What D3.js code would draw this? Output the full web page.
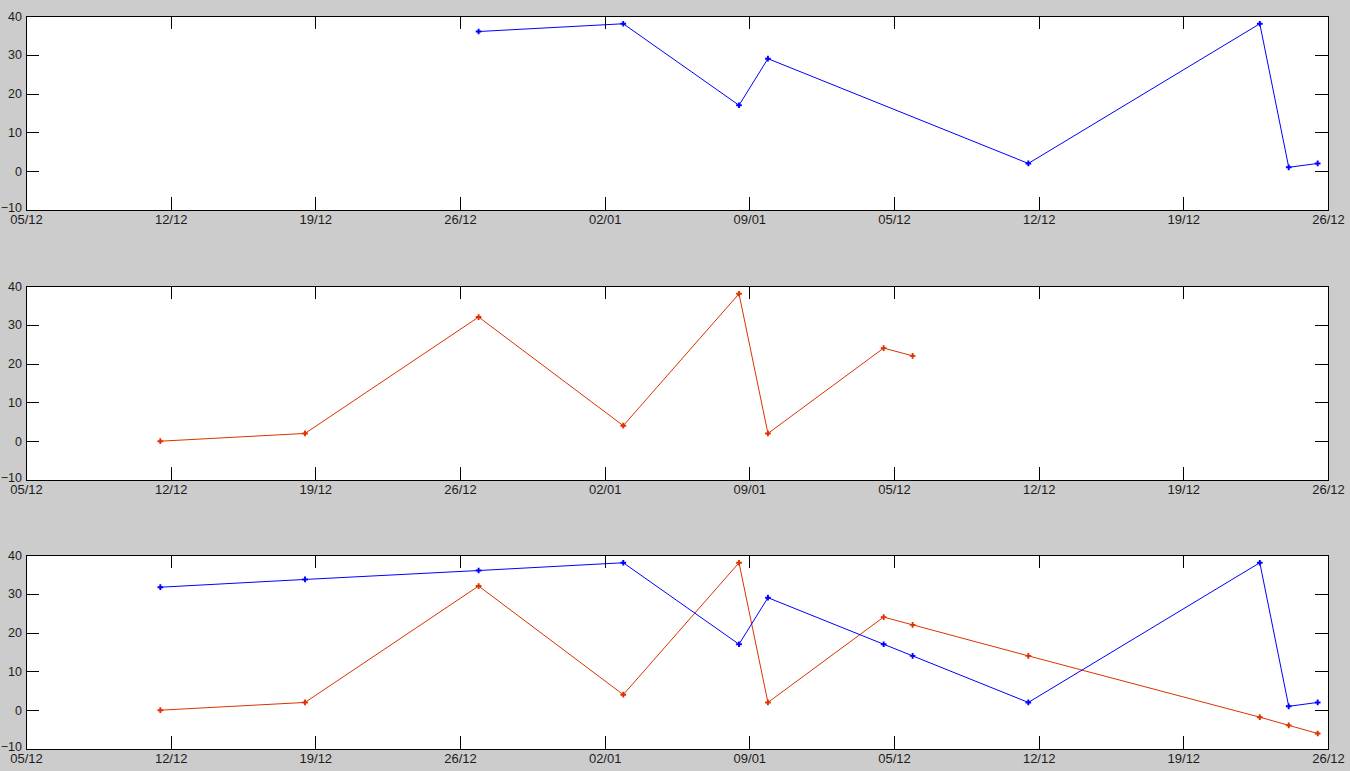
<!DOCTYPE html>
<html>
<head>
<meta charset="utf-8">
<script src="https://cdn.jsdelivr.net/npm/d3@7"></script>
<style>
	html, body { margin: 0; padding: 0; background: #cccccc; }
	svg { display: block; }
	.tick text { font-family: "Liberation Sans", Helvetica, Arial, sans-serif; font-size: 13px; fill: #1c1c1c; }
	.yax .tick text { font-size: 12.5px; }
</style>
</head>
<body>
<div id="main-view"></div>
<script>
// day offsets from the first tick (one tick = 7 days)
var days = [6.5, 13.5, 21.9, 28.9, 34.5, 35.9, 41.5, 42.9, 48.5, 59.7, 61.1, 62.5];
var xTickLabels = ["05/12", "12/12", "19/12", "26/12", "02/01", "09/01", "05/12", "12/12", "19/12", "26/12"];
var yTicks = [-10, 0, 10, 20, 30, 40];

var blueTop = [null, null, 36, 38, 17, 29, null, null, 2, 38, 1, 2];
var redMid = [0, 2, 32, 4, 38, 2, 24, 22, null, null, null, null];
var blueAll = [31.7, 33.7, 36, 38, 17, 29, 17, 14, 2, 38, 1, 2];
var redAll = [0, 2, 32, 4, 38, 2, 24, 22, 14, -1.8, -3.9, -6];

var BLUE = "#0000ff",
	RED = "#dc3200";

var width = 1350,
	height = 771;

var panels = [
	{ top: 16, series: [{ values: blueTop, color: BLUE }] },
	{ top: 286, series: [{ values: redMid, color: RED }] },
	{ top: 555, series: [{ values: redAll, color: RED }, { values: blueAll, color: BLUE }] }
];
var panelHeight = 194;
var left = 26,
	right = 1328;

var svg = d3.select("#main-view").append("svg")
	.attr("width", width)
	.attr("height", height);

var x = d3.scaleLinear().domain([0, 63]).range([left, right]);
var xTickValues = xTickLabels.map(function(d, i) { return i * 7; });

panels.forEach(function(p) {
	var y = d3.scaleLinear().domain([-10, 40]).range([p.top + panelHeight, p.top]);
	var g = svg.append("g");

	g.append("rect")
		.attr("x", left)
		.attr("y", p.top)
		.attr("width", right - left)
		.attr("height", panelHeight)
		.attr("fill", "#fff");

	// inward ticks on all four sides
	var axes = [
		{ axis: d3.axisLeft(y).tickValues(yTicks).tickSize(-13).tickPadding(4), tr: [left, 0], cls: "yax" },
		{ axis: d3.axisRight(y).tickValues(yTicks).tickSize(-13).tickFormat(""), tr: [right, 0], cls: "" },
		{ axis: d3.axisTop(x).tickValues(xTickValues).tickSize(-13).tickFormat(""), tr: [0, p.top], cls: "" },
		{ axis: d3.axisBottom(x).tickValues(xTickValues).tickSize(-13).tickPadding(5)
			.tickFormat(function(d) { return xTickLabels[Math.round(d / 7)]; }), tr: [0, p.top + panelHeight], cls: "xax" }
	];
	axes.forEach(function(a) {
		var ag = g.append("g")
			.attr("class", a.cls)
			.attr("transform", "translate(" + a.tr[0] + "," + a.tr[1] + ")")
			.call(a.axis);
		ag.select(".domain").remove();
		ag.selectAll("line").attr("stroke", "#000").attr("shape-rendering", "crispEdges");
		if (a.cls == "yax") {
			// lowest label sits a little higher, as in the original
			ag.selectAll(".tick text").filter(function(d) { return d === -10; }).attr("dy", "0.1em");
		}
	});

	p.series.forEach(function(s) {
		var pts = [];
		s.values.forEach(function(v, i) {
			if (v !== null) pts.push([days[i], v]);
		});
		var line = d3.line()
			.x(function(d) { return x(d[0]); })
			.y(function(d) { return y(d[1]); });
		g.append("path")
			.attr("d", line(pts))
			.attr("fill", "none")
			.attr("stroke", s.color)
			.attr("stroke-width", 1);
		g.selectAll(null)
			.data(pts)
			.enter().append("path")
			.attr("d", d3.symbol(d3.symbolCross, 18))
			.attr("transform", function(d) { return "translate(" + x(d[0]) + "," + y(d[1]) + ")"; })
			.attr("fill", s.color);
	});

	g.append("rect")
		.attr("x", left + 0.5)
		.attr("y", p.top + 0.5)
		.attr("width", right - left)
		.attr("height", panelHeight)
		.attr("fill", "none")
		.attr("stroke", "#000")
		.attr("shape-rendering", "crispEdges");
});
</script>
</body>
</html>
